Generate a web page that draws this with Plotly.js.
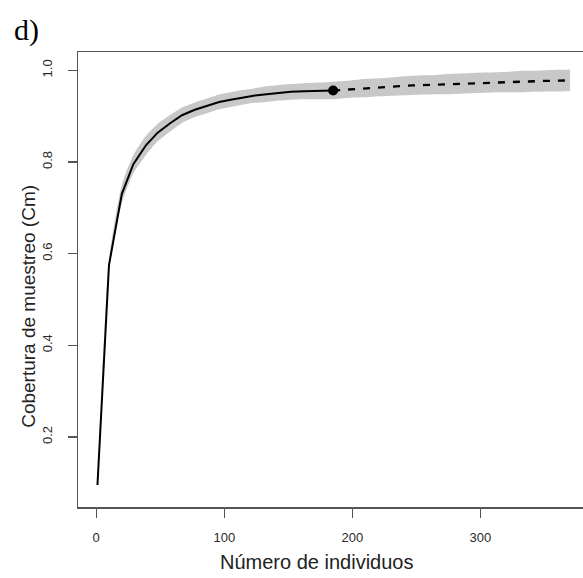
<!DOCTYPE html>
<html>
<head>
<meta charset="utf-8">
<script src="https://cdn.plot.ly/plotly-3.0.1.min.js"></script>
<style>html,body{margin:0;padding:0;background:#fff;}#chart{width:583px;height:578px;}</style>
</head>
<body>
<div id="chart"></div>
<script>
// Observed (interpolated) sampling coverage
var sizeObs = [1, 10, 20, 29, 39, 48, 58, 67, 77, 86, 96, 105, 114, 124, 133, 143, 152, 162, 171, 181, 185];
var covObs  = [0.095, 0.575, 0.73, 0.795, 0.837, 0.864, 0.885, 0.902, 0.914, 0.922, 0.931, 0.936, 0.941, 0.945, 0.948, 0.951, 0.953, 0.9545, 0.955, 0.9555, 0.956];
var loObs   = [0.091, 0.563, 0.710, 0.775, 0.816, 0.845, 0.867, 0.885, 0.898, 0.906, 0.915, 0.920, 0.925, 0.929, 0.931, 0.934, 0.936, 0.937, 0.937, 0.937, 0.937];
var upObs   = [0.099, 0.587, 0.750, 0.815, 0.858, 0.883, 0.903, 0.919, 0.930, 0.938, 0.947, 0.952, 0.957, 0.961, 0.965, 0.968, 0.970, 0.972, 0.973, 0.974, 0.975];

// Extrapolated coverage
var sizeExt = [190, 199, 209, 218, 228, 237, 247, 256, 266, 275, 285, 294, 304, 313, 323, 332, 342, 351, 361, 370];
var covExt  = [0.957, 0.959, 0.961, 0.9625, 0.964, 0.9655, 0.967, 0.968, 0.969, 0.970, 0.971, 0.972, 0.973, 0.974, 0.9748, 0.9755, 0.9763, 0.977, 0.9775, 0.978];
var loExt   = [0.938, 0.940, 0.941, 0.943, 0.944, 0.945, 0.946, 0.947, 0.948, 0.948, 0.949, 0.950, 0.951, 0.952, 0.952, 0.952, 0.953, 0.954, 0.954, 0.955];
var upExt   = [0.976, 0.978, 0.981, 0.982, 0.984, 0.986, 0.988, 0.989, 0.990, 0.992, 0.993, 0.994, 0.995, 0.996, 0.997, 0.999, 0.999, 1.000, 1.001, 1.002];

// Observed reference sample
var refSize = [185];
var refCov  = [0.956];

var xTicks = [0, 100, 200, 300];
var yTicks = [0.2, 0.4, 0.6, 0.8, 1.0];
var yTickText = ['0.2', '0.4', '0.6', '0.8', '1.0'];

var bandX = sizeObs.concat(sizeExt);
var bandUp = upObs.concat(upExt);
var bandLo = loObs.concat(loExt);
var extX = [sizeObs[sizeObs.length - 1]].concat(sizeExt);
var extY = [covObs[covObs.length - 1]].concat(covExt);

var traces = [
  {x: bandX, y: bandUp, mode: 'lines', line: {width: 0, color: 'rgba(0,0,0,0)', shape: 'spline', smoothing: 0.6}, hoverinfo: 'skip', showlegend: false},
  {x: bandX, y: bandLo, mode: 'lines', line: {width: 0, color: 'rgba(0,0,0,0)', shape: 'spline', smoothing: 0.6}, fill: 'tonexty', fillcolor: '#c8c8c8', hoverinfo: 'skip', showlegend: false},
  {x: sizeObs, y: covObs, mode: 'lines', line: {color: '#000', width: 2}, showlegend: false},
  {x: extX, y: extY, mode: 'lines', line: {color: '#000', width: 2.3, dash: '7px,8px'}, showlegend: false},
  {x: refSize, y: refCov, mode: 'markers', marker: {color: '#000', size: 10}, showlegend: false}
];

var tickFont = {family: 'Liberation Sans, Arial, sans-serif', size: 13, color: '#2a2a2a'};

var layout = {
  width: 583, height: 578,
  margin: {l: 78, r: 0, t: 52, b: 71, pad: 0},
  paper_bgcolor: '#fff', plot_bgcolor: '#fff',
  showlegend: false,
  xaxis: {
    range: [-14.2, 380.1], tickvals: xTicks, ticktext: xTicks.map(String),
    ticks: 'outside', ticklen: 9, tickwidth: 1.3, tickcolor: '#555',
    showline: true, linecolor: '#555', linewidth: 1.5, mirror: true,
    showgrid: false, zeroline: false, tickfont: tickFont, ticklabelstandoff: 9
  },
  yaxis: {
    range: [0.047, 1.040], tickvals: yTicks, ticktext: yTickText, tickangle: -90,
    ticks: 'outside', ticklen: 9, tickwidth: 1.3, tickcolor: '#555',
    showline: true, linecolor: '#555', linewidth: 1.5, mirror: false,
    showgrid: false, zeroline: false, tickfont: tickFont, ticklabelstandoff: 10
  },
  annotations: [
    {text: 'Número de individuos', xref: 'paper', yref: 'paper', x: 0.4727, y: -0.121,
     xanchor: 'center', yanchor: 'middle', showarrow: false,
     font: {family: 'Liberation Sans, Arial, sans-serif', size: 20, color: '#222'}},
    {text: 'Cobertura de muestreo (Cm)', xref: 'paper', yref: 'paper', x: -0.097, y: 0.44,
     xanchor: 'center', yanchor: 'middle', textangle: -90, showarrow: false,
     font: {family: 'Liberation Sans, Arial, sans-serif', size: 19, color: '#222'}},
    {text: 'd)', xref: 'paper', yref: 'paper', x: -0.101, y: 1.048,
     xanchor: 'center', yanchor: 'middle', showarrow: false,
     font: {family: 'Liberation Serif, Times New Roman, serif', size: 30, color: '#000'}}
  ]
};

Plotly.newPlot('chart', traces, layout, {displayModeBar: false, staticPlot: true});
</script>
</body>
</html>
